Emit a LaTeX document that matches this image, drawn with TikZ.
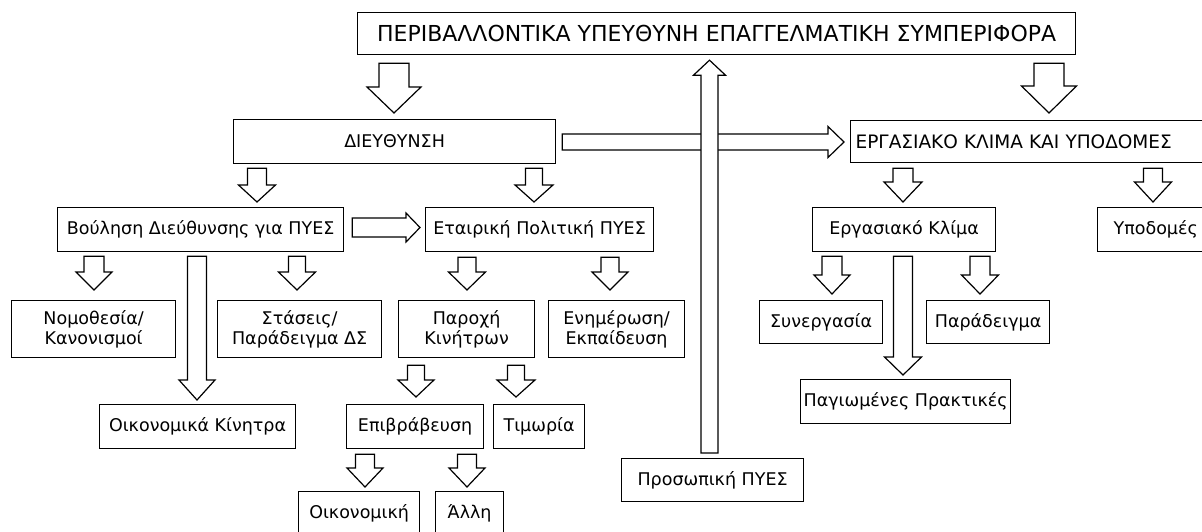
\documentclass[tikz,border=0pt]{standalone}
\usepackage{fontspec}
\setmainfont{DejaVu Sans}
\usetikzlibrary{calc}
\tikzset{
  box/.style={draw, line width=1.2pt, inner sep=0pt, align=center, anchor=north west,
    font=\fontsize{17.5}{20.5}\selectfont},
  titlebox/.style={box, font=\fontsize{22}{25}\selectfont},
  capsbox/.style={box, font=\fontsize{18.5}{21}\selectfont},
  blockarrow/.style={draw, fill=white, line width=1.2pt, line join=miter}
}
% down block arrow: from, to, x centre, shaft half, head half, head length, top gap, tip gap
\newcommand\dnarr[8]{%
  \path[blockarrow] let \p1=(#1.south), \p2=(#2.north) in
  ({(#3-#4)*1pt},{\y1-#7pt}) -- ({(#3+#4)*1pt},{\y1-#7pt})
  -- ({(#3+#4)*1pt},{\y2+#8pt+#6pt}) -- ({(#3+#5)*1pt},{\y2+#8pt+#6pt})
  -- ({#3*1pt},{\y2+#8pt}) -- ({(#3-#5)*1pt},{\y2+#8pt+#6pt})
  -- ({(#3-#4)*1pt},{\y2+#8pt+#6pt}) -- cycle;}
% right block arrow: from, to, y centre, shaft half, head half, head length, left gap, tip gap
\newcommand\rtarr[8]{%
  \path[blockarrow] let \p1=(#1.east), \p2=(#2.west) in
  ({\x1+#7pt},{-(#3-#4)*1pt}) -- ({\x2-#8pt-#6pt},{-(#3-#4)*1pt})
  -- ({\x2-#8pt-#6pt},{-(#3-#5)*1pt}) -- ({\x2-#8pt},{-#3*1pt})
  -- ({\x2-#8pt-#6pt},{-(#3+#5)*1pt}) -- ({\x2-#8pt-#6pt},{-(#3+#4)*1pt})
  -- ({\x1+#7pt},{-(#3+#4)*1pt}) -- cycle;}
\begin{document}
\begin{tikzpicture}[x=1pt,y=-1pt]
\useasboundingbox (0,0) rectangle (1202,532);
\clip (0,0) rectangle (1202,532);
% nodes
\node[titlebox, minimum width=718pt, minimum height=42pt] (top) at (357,12) {ΠΕΡΙΒΑΛΛΟΝΤΙΚΑ ΥΠΕΥΘΥΝΗ ΕΠΑΓΓΕΛΜΑΤΙΚΗ ΣΥΜΠΕΡΙΦΟΡΑ};
\node[box, minimum width=322pt, minimum height=44pt] (dir) at (233,119) {ΔΙΕΥΘΥΝΣΗ};
\node[capsbox, align=left, text width=345pt, inner xsep=5pt, minimum height=42pt] (erg) at (850,120) {ΕΡΓΑΣΙΑΚΟ ΚΛΙΜΑ ΚΑΙ ΥΠΟΔΟΜΕΣ};
\node[box, minimum width=286pt, minimum height=44pt] (boul) at (57,207) {Βούληση Διεύθυνσης για ΠΥΕΣ};
\node[box, minimum width=228pt, minimum height=44pt] (etair) at (425,207) {Εταιρική Πολιτική ΠΥΕΣ};
\node[box, minimum width=183pt, minimum height=44pt] (ergk) at (812,207) {Εργασιακό Κλίμα};
\node[box, align=left, text width=100pt, inner xsep=16pt, minimum height=44pt] (ypod) at (1097,207) {Υποδομές};
\node[box, minimum width=164pt, minimum height=57pt] (nomo) at (11,300) {Νομοθεσία/\\Κανονισμοί};
\node[box, minimum width=164pt, minimum height=57pt] (stas) at (217,300) {Στάσεις/\\Παράδειγμα ΔΣ};
\node[box, minimum width=136pt, minimum height=57pt] (paro) at (398,300) {Παροχή\\Κινήτρων};
\node[box, minimum width=136pt, minimum height=57pt] (enim) at (548,300) {Ενημέρωση/\\Εκπαίδευση};
\node[box, minimum width=123pt, minimum height=43pt] (syn) at (759,300) {Συνεργασία};
\node[box, minimum width=123pt, minimum height=43pt] (par) at (926,300) {Παράδειγμα};
\node[box, minimum width=196pt, minimum height=44pt] (oik) at (99,404) {Οικονομικά Κίνητρα};
\node[box, minimum width=137pt, minimum height=44pt] (epiv) at (346,404) {Επιβράβευση};
\node[box, minimum width=91pt, minimum height=44pt] (tim) at (493,404) {Τιμωρία};
\node[box, minimum width=210pt, minimum height=44pt] (pag) at (800,379) {Παγιωμένες Πρακτικές};
\node[box, minimum width=182pt, minimum height=43pt] (pros) at (621,458) {Προσωπική ΠΥΕΣ};
\node[box, minimum width=121pt, minimum height=44pt] (oikon) at (298,491) {Οικονομική};
\node[box, minimum width=68pt, minimum height=44pt] (alli) at (435,491) {Άλλη};
% arrows
\dnarr{top}{dir}{394}{15}{27}{26}{8}{6}
\dnarr{top}{erg}{1049}{15}{27.5}{27}{8}{7}
\dnarr{dir}{boul}{257}{9.5}{18.5}{17}{4}{5}
\dnarr{dir}{etair}{534}{8.5}{19}{17}{4}{5}
\dnarr{erg}{ergk}{903}{10}{19}{20}{5}{5}
\dnarr{erg}{ypod}{1153}{9.5}{18.5}{20}{5}{5}
\dnarr{boul}{nomo}{94}{10}{18}{18}{4}{10}
\dnarr{boul}{oik}{197}{9.5}{18}{20}{4}{4}
\dnarr{boul}{stas}{297}{8.5}{18.5}{18}{4}{10}
\dnarr{etair}{paro}{467}{9}{18.5}{18}{5}{10}
\dnarr{etair}{enim}{610}{9}{18}{18}{5}{10}
\dnarr{paro}{epiv}{416}{8.5}{18}{17}{7}{7}
\dnarr{paro}{tim}{516}{8.5}{19}{17}{7}{7}
\dnarr{epiv}{oikon}{365}{9.5}{18}{19}{5}{4}
\dnarr{epiv}{alli}{467}{9.5}{18}{19}{5}{4}
\dnarr{ergk}{syn}{832}{10}{18}{19}{4}{6}
\dnarr{ergk}{pag}{903}{9.5}{18.5}{18}{4}{4}
\dnarr{ergk}{par}{980}{10}{18.5}{19}{4}{6}
\rtarr{boul}{etair}{227.5}{9.5}{14.5}{14}{8}{5}
\rtarr{dir}{erg}{142}{8}{15.5}{16}{6}{6}
% upward arrow from personal to top
\path[blockarrow] let \p1=(pros.north), \p2=(top.south) in
  (701,{\y1+5pt}) -- (718,{\y1+5pt}) -- (718,{\y2-5pt-15pt}) -- (725.5,{\y2-5pt-15pt})
  -- (709.5,{\y2-5pt}) -- (693.5,{\y2-5pt-15pt}) -- (701,{\y2-5pt-15pt}) -- cycle;
\end{tikzpicture}
\end{document}
